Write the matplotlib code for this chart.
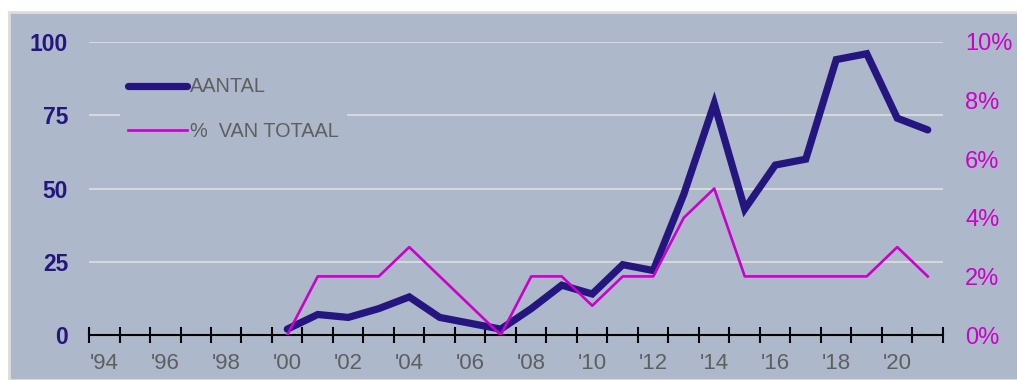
import matplotlib
matplotlib.use('Agg')
import matplotlib.pyplot as plt
import numpy as np
from matplotlib.patches import Rectangle
from matplotlib.ticker import FixedLocator

plt.rcParams['font.family'] = ['Liberation Sans', 'DejaVu Sans']

# data
jaren = list(range(1994, 2022))
jaar_labels = ["'%02d" % (j % 100) for j in jaren]
aantal = [np.nan]*6 + [2, 7, 6, 9, 13, 6, 4, 2, 9, 17, 14, 24, 22, 48, 79, 43, 58, 60, 94, 96, 74, 70]
pct_totaal = [np.nan]*6 + [0, 2, 2, 2, 3, 2, 1, 0, 2, 2, 1, 2, 2, 4, 5, 2, 2, 2, 2, 2, 3, 2]

navy = '#25167f'
magenta = '#cc00cc'
achtergrond = '#adb8cb'
grijs = '#5f5f5f'

fig = plt.figure(figsize=(10.17, 3.8), dpi=100)
fig.patch.set_facecolor('white')
# grijsblauw paneel achter de grafiek
fig.patches.append(Rectangle((9/1017, 0), 1.1, (380-12)/380, transform=fig.transFigure,
                             facecolor=achtergrond, edgecolor='#dcdcdc', lw=2, zorder=-10))

ax = fig.add_axes([89/1017, 45/380, 854/1017, 293/380])
ax.set_facecolor('none')
x = np.arange(len(jaren))

l1, = ax.plot(x, aantal, color=navy, lw=5.2, solid_capstyle='round', solid_joinstyle='miter', zorder=3)
ax.set_xlim(-0.5, len(jaren)-0.5)
ax.set_ylim(0, 100)
ax.set_yticks([0, 25, 50, 75, 100])
for v in [25, 50, 75, 100]:
	ax.axhline(v, color='#dcdcdc', lw=1.3, zorder=1)

for s in ['top', 'right', 'left']:
	ax.spines[s].set_visible(False)
ax.spines['bottom'].set_color('black')
ax.spines['bottom'].set_linewidth(1.5)
ax.spines['bottom'].set_zorder(2)

ax.xaxis.set_major_locator(FixedLocator(np.arange(-0.5, len(jaren), 1.0)))
ax.xaxis.set_minor_locator(FixedLocator(x[::2]))
ax.tick_params(axis='x', which='major', direction='inout', length=11, width=1.5, color='black', labelbottom=False)
ax.tick_params(axis='x', which='minor', length=0, pad=13, labelsize=16, labelcolor=grijs)
ax.set_xticklabels(jaar_labels[::2], minor=True)
ax.tick_params(axis='y', length=0, pad=15, labelsize=16.5, labelcolor=navy)
for t in ax.get_yticklabels():
	t.set_fontweight('bold')

ax2 = ax.twinx()
ax2.set_facecolor('none')
l2, = ax2.plot(x, pct_totaal, color=magenta, lw=1.9, zorder=4)
ax2.set_ylim(0, 10)
ax2.set_yticks([0, 2, 4, 6, 8, 10])
ax2.set_yticklabels(['%d%%' % v for v in [0, 2, 4, 6, 8, 10]])
ax2.tick_params(axis='y', length=0, pad=16, labelsize=17, labelcolor=magenta)
for s in ['top', 'right', 'left', 'bottom']:
	ax2.spines[s].set_visible(False)

leg = ax2.legend([l1, l2], ['AANTAL', '%  VAN TOTAAL'], loc='upper left', bbox_to_anchor=(0.036, 0.906),
                 borderaxespad=0, borderpad=0.4, handlelength=3.0, handletextpad=0.15,
                 labelspacing=1.29, fontsize=14.3, frameon=True, fancybox=False)
leg.get_frame().set_facecolor(achtergrond)
leg.get_frame().set_edgecolor('none')
leg.get_frame().set_alpha(1)
for t in leg.get_texts():
	t.set_color(grijs)

plt.savefig('out.png', dpi=100, facecolor='white')
